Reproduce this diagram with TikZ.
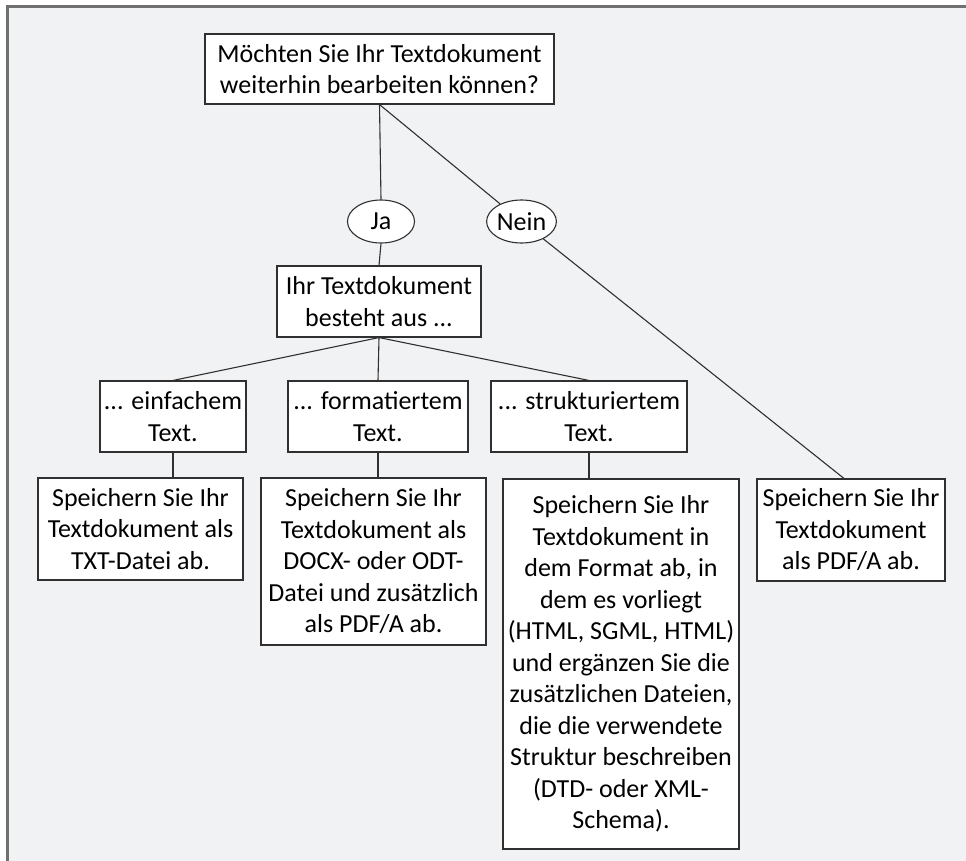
\documentclass[tikz,border=0pt]{standalone}
\usepackage{fontspec}
\setmainfont{Carlito}
\usepackage{tikz}
\usetikzlibrary{shapes.geometric}
\usepackage{xcolor}
\definecolor{framegray}{HTML}{707070}
\definecolor{bggray}{HTML}{F1F2F4}
\definecolor{linegray}{HTML}{303030}

\begin{document}
\begin{tikzpicture}[
    x=1pt, y=-1pt,
    box/.style={rectangle, draw=linegray, fill=white, line width=1.1pt, inner sep=2pt, align=center, font=\fontsize{26}{31.5}\selectfont},
    answer/.style={ellipse, draw=linegray, fill=white, line width=1.1pt, inner sep=0pt, minimum width=67pt, minimum height=43pt, font=\fontsize{26}{31.5}\selectfont},
    link/.style={draw=linegray, line width=1.1pt}
]
\useasboundingbox (0,0) rectangle (966,861);
\draw[framegray, fill=bggray, line width=3pt] (7,7) rectangle (990,890);

\node[box, minimum width=349pt, minimum height=70pt] (frage) at (379.5,69) {Möchten Sie Ihr Textdokument\\weiterhin bearbeiten können?};
\node[answer] (ja) at (381,221.5) {Ja};
\node[answer] (nein) at (521.5,221.5) {Nein};
\node[box, minimum width=204pt, minimum height=71pt] (inhalt) at (379,301.5) {Ihr Textdokument\\besteht aus ...};

\node[box, minimum width=146pt, minimum height=71pt] (einfach) at (173,416.5) {... einfachem\\Text.};
\node[box, minimum width=180pt, minimum height=71pt] (format) at (378,416.5) {... formatiertem\\Text.};
\node[box, minimum width=196pt, minimum height=71pt] (struktur) at (589,416.5) {... strukturiertem\\Text.};

\node[box, minimum width=205pt, minimum height=102pt] (txt) at (140.5,529) {Speichern Sie Ihr\\Textdokument als\\TXT-Datei ab.};
\node[box, minimum width=225pt, minimum height=167pt] (docx) at (373.5,561.5) {Speichern Sie Ihr\\Textdokument als\\DOCX- oder ODT-\\Datei und zusätzlich\\als PDF/A ab.};
\node[box, minimum width=236pt, minimum height=370pt] (html) at (621,664) {Speichern Sie Ihr\\Textdokument in\\dem Format ab, in\\dem es vorliegt\\(HTML, SGML, HTML)\\und ergänzen Sie die\\zusätzlichen Dateien,\\die die verwendete\\Struktur beschreiben\\(DTD- oder XML-\\Schema).};
\node[box, minimum width=188pt, minimum height=102pt] (pdfa) at (851,530) {Speichern Sie Ihr\\Textdokument\\als PDF/A ab.};

\draw[link] (frage.south) -- (ja.north);
\draw[link] (frage.south) -- (nein);
\draw[link] (nein) -- ([xshift=-7pt]pdfa.north);
\draw[link] (ja.south) -- (inhalt.north);
\draw[link] (inhalt.south) -- (einfach.north);
\draw[link] (inhalt.south) -- (format.north);
\draw[link] (inhalt.south) -- (struktur.north);
\draw[link] (einfach.south) -- (einfach.south |- txt.north);
\draw[link] (format.south) -- (format.south |- docx.north);
\draw[link] (struktur.south) -- (struktur.south |- html.north);
\end{tikzpicture}
\end{document}
